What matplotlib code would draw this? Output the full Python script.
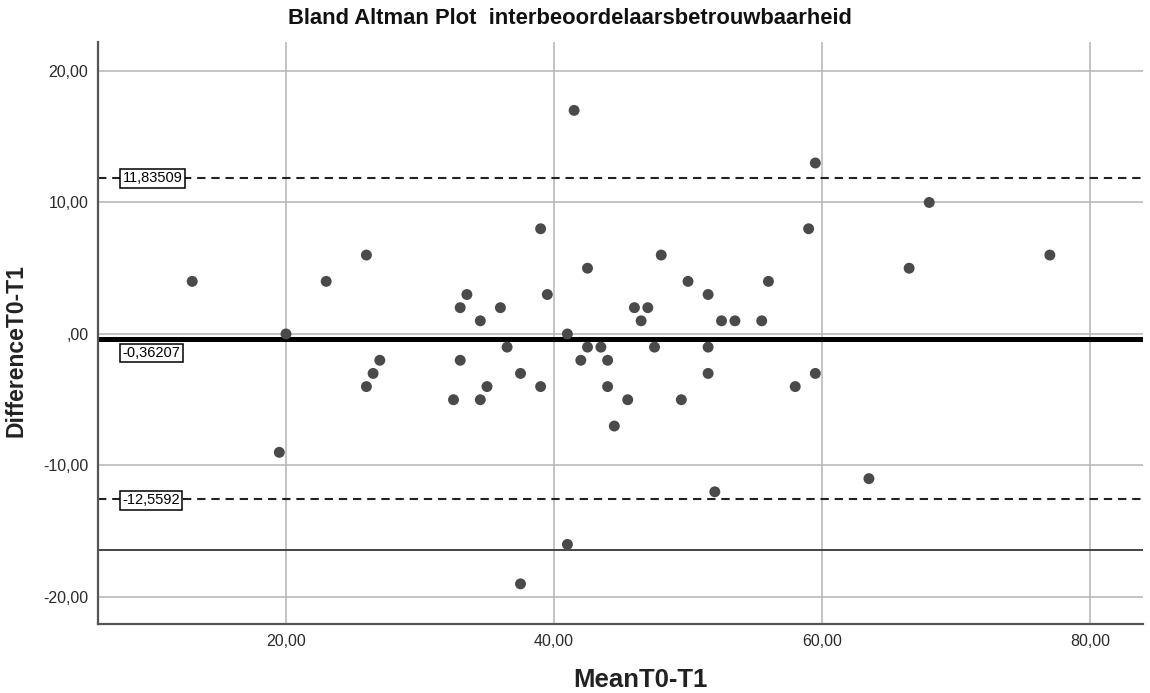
import matplotlib
matplotlib.use("Agg")
import matplotlib.pyplot as plt

plt.rcParams['font.family'] = ['Liberation Sans', 'DejaVu Sans']

# mean of T0 and T1 per subject
mean_t0_t1 = [13, 20, 19.5, 23, 26, 26, 26.5, 27, 32.5, 33, 33, 33.5, 34.5, 34.5,
              35, 36, 36.5, 37.5, 37.5, 39, 39, 39.5, 41.5, 42.5, 48, 50, 51.5, 56,
              46, 47, 46.5, 52.5, 53.5, 55.5, 41, 42.5, 43.5, 47.5, 51.5, 42, 44,
              51.5, 44, 45.5, 44.5, 49.5, 58, 52, 41, 59.5, 59, 68, 66.5, 77, 59.5, 63.5]
# difference T0 - T1
diff_t0_t1 = [4, 0, -9, 4, 6, -4, -3, -2, -5, 2, -2, 3, 1, -5,
              -4, 2, -1, -3, -19, 8, -4, 3, 17, 5, 6, 4, 3, 4,
              2, 2, 1, 1, 1, 1, 0, -1, -1, -1, -1, -2, -2,
              -3, -4, -5, -7, -5, -4, -12, -16, 13, 8, 10, 5, 6, -3, -11]

mean_diff = -0.36207
upper_loa = 11.83509
lower_loa = -12.5592
ref_line = -16.4
line_labels = ['11,83509', '-0,36207', '-12,5592']

x_ticks = [20, 40, 60, 80]
y_ticks = [-20, -10, 0, 10, 20]

def fmt(v):
    # SPSS style: comma decimal, no leading zero
    s = f"{v:.2f}".replace('.', ',')
    if s.startswith('0,'):
        s = s[1:]
    return s

fig = plt.figure(figsize=(11.5, 6.93), dpi=100)
ax = fig.add_axes([0.0852, 0.0996, 0.9087, 0.8398])

ax.set_xlim(5.97, 83.95)
ax.set_ylim(-22.05, 22.2)
ax.set_xticks(x_ticks)
ax.set_yticks(y_ticks)
ax.set_xticklabels([fmt(v) for v in x_ticks])
ax.set_yticklabels([fmt(v) for v in y_ticks])
ax.grid(True, color='#b4b4b4', linewidth=1.1, zorder=0)
ax.set_axisbelow(True)
ax.tick_params(length=0, labelsize=11.5, labelcolor='#2a2a2a', pad=7)

for s in ['top', 'right']:
    ax.spines[s].set_visible(False)
for s in ['left', 'bottom']:
    ax.spines[s].set_color('#555555')
    ax.spines[s].set_linewidth(1.6)

ax.axhline(mean_diff, color='black', linewidth=3.6, zorder=2)
ax.axhline(upper_loa, color='#222222', linewidth=1.5, dashes=(4, 2.8), zorder=2)
ax.axhline(lower_loa, color='#222222', linewidth=1.5, dashes=(4, 2.8), zorder=2)
ax.axhline(ref_line, color='#444444', linewidth=1.4, zorder=2)

ax.scatter(mean_t0_t1, diff_t0_t1, s=62, color='#4a4a4a', edgecolors='none', zorder=3)

box = dict(boxstyle='square,pad=0.15', facecolor='white', edgecolor='black', linewidth=1.1)
ax.text(7.8, upper_loa, line_labels[0], fontsize=10.5, va='center', ha='left', bbox=box, zorder=4)
ax.text(7.8, mean_diff - 1.1, line_labels[1], fontsize=10.5, va='center', ha='left', bbox=box, zorder=4)
ax.text(7.8, lower_loa - 0.1, line_labels[2], fontsize=10.5, va='center', ha='left', bbox=box, zorder=4)

ax.set_xlabel('MeanT0-T1', fontsize=18.5, fontweight='bold', color='#222222')
ax.set_ylabel('DifferenceT0-T1', fontsize=16.5, fontweight='bold', color='#222222')
ax.xaxis.set_label_coords(0.519, -0.076)
ax.yaxis.set_label_coords(-0.067, 0.47)

fig.text(0.496, 0.974, 'Bland Altman Plot  interbeoordelaarsbetrouwbaarheid',
         fontsize=15.8, fontweight='bold', ha='center', va='center', color='#111111')

fig.savefig('out.png', dpi=100)
